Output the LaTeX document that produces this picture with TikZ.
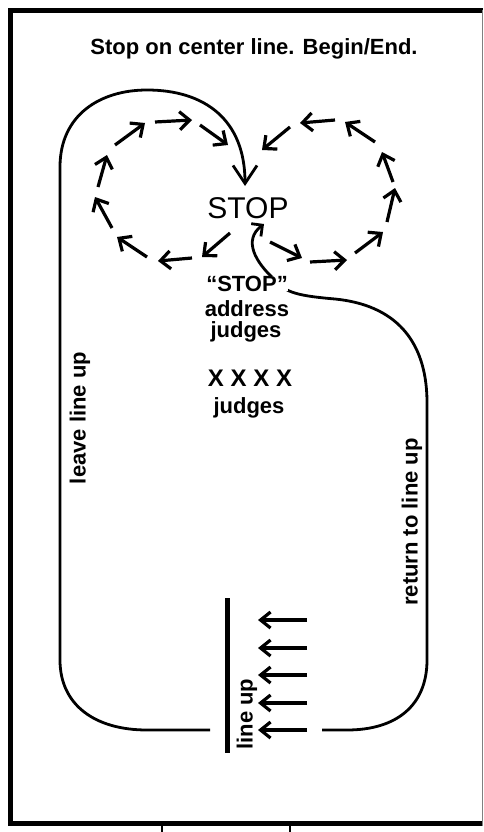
\documentclass[tikz,border=0pt]{standalone}
\usepackage{fontspec}
\setmainfont{Liberation Sans}
\usetikzlibrary{arrows.meta}

\begin{document}
\begin{tikzpicture}[x=1pt,y=-1pt,
  word/.style={font=\bfseries\fontsize{22}{22}\selectfont,inner sep=0pt,anchor=base},
  track/.style={line width=2.8pt},
  loop arrow/.style={line width=3.2pt,-{Straight Barb[length=10pt,width=18pt]}},
  queue arrow/.style={line width=3.2pt,-{Straight Barb[length=10pt,width=16pt]}}]

  \useasboundingbox (0,0) rectangle (483,832);

  % Ring

  \draw [line width=5pt] (483,10.5) -- (10.5,10.5) -- (10.5,823.5) -- (483,823.5);
  \draw [line width=1pt,gray] (482,10) -- (482,826);
  \draw [line width=1.3pt] (162,826) -- (162,832) (290,826) -- (290,832);

  \node [word] (title) at (254,55) {Stop on center line. Begin/End.};

  % Stop on the center line

  \node [inner sep=0pt,anchor=base,font=\fontsize{30}{30}\selectfont] (stop) at (248,218) {STOP};
  \coordinate (stopin) at (245,186);
  \coordinate (stopout) at (264,224);

  % Line up

  \coordinate (bartop) at (227,598);
  \coordinate (barbot) at (227,753);
  \coordinate (leave) at (210,730);
  \coordinate (back) at (322,730);
  \draw [line width=5pt] (bartop) -- (barbot);
  \node [word,anchor=center,rotate=90] (lineup) at (247,714) {line up};
  \draw [queue arrow] (307,620) -- (258,620);
  \draw [queue arrow] (307,648) -- (258,648);
  \draw [queue arrow] (307,675) -- (258,675);
  \draw [queue arrow] (307,703) -- (258,703);
  \draw [queue arrow] (307,730) -- (258,730);

  % Leave line up

  \draw [track,-{Straight Barb[length=18pt,width=24pt]}] (leave) -- (147,730)
    .. controls (95,730) and (60,705) .. (60,660) -- (60,167)
    .. controls (60,115) and (100,90) .. (147,90)
    .. controls (205,90) and (245,120) .. (stopin);
  \node [word,anchor=center,rotate=90] (leavelbl) at (80,418) {leave line up};

  % Return to line up

  \draw [track,-{Straight Barb[length=8pt,width=16pt]}] (back) -- (347,730)
    .. controls (397,730) and (427,705) .. (427,660) -- (427,400)
    .. controls (426,340) and (395,305) .. (335,299)
    .. controls (300,296) and (285,293) .. (275,280)
    .. controls (255,262) and (243,240) .. (stopout);
  \node [word,anchor=center,rotate=90] (returnlbl) at (412,522) {return to line up};

  % Left loop

  \draw [loop arrow] (230,233) -- (202,257);
  \draw [loop arrow] (192,258) -- (158,261);
  \draw [loop arrow] (147,257) -- (117,237);
  \draw [loop arrow] (112,228) -- (95,197);
  \draw [loop arrow] (98,187) -- (107,155);
  \draw [loop arrow] (115,145) -- (145,123);
  \draw [loop arrow] (155,122) -- (192,120);
  \draw [loop arrow] (200,125) -- (228,145);

  % Right loop

  \draw [loop arrow] (270,242) -- (302,258);
  \draw [loop arrow] (310,262) -- (347,260);
  \draw [loop arrow] (355,253) -- (383,232);
  \draw [loop arrow] (387,222) -- (395,188);
  \draw [loop arrow] (393,182) -- (382,152);
  \draw [loop arrow] (375,142) -- (345,122);
  \draw [loop arrow] (335,120) -- (300,123);
  \draw [loop arrow] (290,127) -- (262,150);

  % Judges

  \node [word,fill=white] (quote) at (247,291) {“STOP”};
  \node [word] (address) at (247,316) {address};
  \node [word] (judges) at (246,337) {judges};
  \node [word,font=\bfseries\fontsize{24}{24}\selectfont] (marks) at (250,386) {X X X X};
  \node [word] (judgesrow) at (249,413) {judges};
\end{tikzpicture}
\end{document}
